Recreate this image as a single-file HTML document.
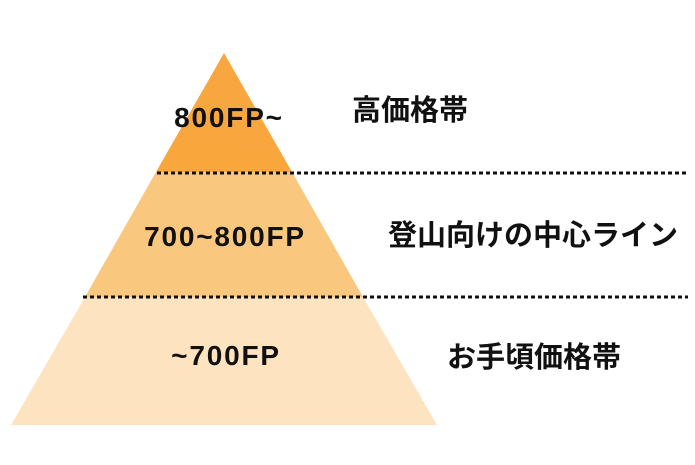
<!DOCTYPE html>
<html><head><meta charset="utf-8"><style>
html,body{margin:0;padding:0;background:#fff;}
body{width:695px;height:460px;overflow:hidden;}
text{font-family:"Liberation Sans","Noto Sans CJK JP",sans-serif;font-weight:bold;fill:#111;}
.n{letter-spacing:1.8px;}
</style></head><body>
<svg width="695" height="460" viewBox="0 0 695 460">
<defs>
<linearGradient id="g1" x1="0" y1="0" x2="0" y2="1">
<stop offset="0" stop-color="#F7A640"/><stop offset="1" stop-color="#F9A63C"/>
</linearGradient>
</defs>
<polygon points="224,53 292,172 156,172" fill="url(#g1)"/>
<polygon points="156,172 292,172 363,297 85,297" fill="#FAC77F"/>
<polygon points="85,297 363,297 437,425 11,425" fill="#FDE3BF"/>
<line x1="157" y1="173" x2="686" y2="173" stroke="#111" stroke-width="3" stroke-dasharray="4 3"/>
<line x1="83" y1="297" x2="688" y2="297" stroke="#111" stroke-width="3" stroke-dasharray="4 3"/>
<text class="n" x="229" y="127" font-size="28" text-anchor="middle">800FP~</text>
<text class="n" x="225" y="246" font-size="28" text-anchor="middle">700~800FP</text>
<text class="n" x="226" y="365" font-size="28" text-anchor="middle">~700FP</text>
<text x="352" y="120" font-size="29">高価格帯</text>
<text x="388" y="245" font-size="29">登山向けの中心ライン</text>
<text x="447" y="367" font-size="29">お手頃価格帯</text>
</svg>
</body></html>
